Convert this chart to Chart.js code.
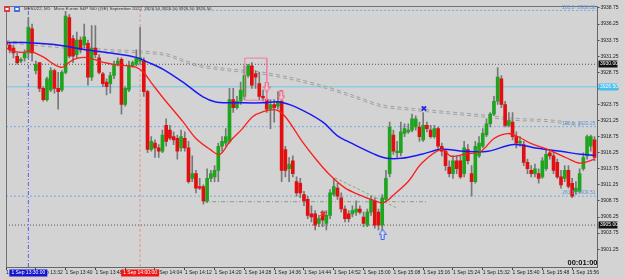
<!DOCTYPE html>
<html>
<head>
<meta charset="utf-8">
<script src="https://cdn.jsdelivr.net/npm/chart.js@4.4.0/dist/chart.umd.min.js"></script>
<style>
  html, body { margin: 0; padding: 0; background: #d3d3d3; }
  canvas { display: block; }
</style>
</head>
<body>
<canvas id="chart" width="625" height="279"></canvas>
<script>
// MESU22 M1 candles, one per minute starting 1 Sep 13:24
const opens = [
  3933.5, 3933.0, 3932.5, 3931.25, 3930.5, 3931.0, 3931.75, 3935.5, 3929.0, 3930.25,
  3926.25, 3924.5, 3926.0, 3929.0, 3926.25, 3926.0, 3928.75, 3937.25, 3934.0, 3931.5,
  3933.75, 3933.0, 3933.25, 3928.0, 3932.5, 3931.0, 3928.5, 3927.25, 3927.0, 3928.25,
  3930.0, 3930.75, 3923.75, 3926.0, 3929.75, 3930.0, 3930.5, 3930.5, 3925.75, 3916.75,
  3917.75, 3917.0, 3916.5, 3920.5, 3919.75, 3918.75, 3918.5, 3917.0, 3918.5, 3917.0,
  3912.25, 3913.0, 3911.0, 3911.0, 3908.75, 3912.25, 3912.5, 3913.5, 3917.25, 3917.75,
  3918.0, 3924.5, 3923.25, 3924.25, 3925.0, 3928.25, 3929.75, 3928.5, 3927.0, 3925.0,
  3924.5, 3923.0, 3923.75, 3923.5, 3924.25, 3916.75, 3913.75, 3915.0, 3911.75, 3911.5,
  3909.75, 3909.0, 3906.75, 3906.75, 3905.25, 3906.5, 3905.25, 3906.5, 3909.75, 3910.75,
  3909.25, 3907.5, 3906.75, 3906.75, 3907.0, 3907.5, 3906.25, 3905.0, 3907.0, 3908.75,
  3907.0, 3905.0, 3909.0, 3913.0, 3919.0, 3916.25, 3916.25, 3919.25, 3919.5, 3919.75,
  3920.25, 3920.25, 3918.25, 3920.5, 3919.75, 3918.75, 3920.0, 3917.25, 3916.5, 3914.0,
  3913.0, 3915.0, 3915.0, 3913.0, 3916.75, 3913.0, 3911.75, 3915.75, 3917.25, 3919.0,
  3920.75, 3922.25, 3924.25, 3927.75, 3923.75, 3920.5, 3921.0, 3918.75, 3917.75, 3917.5,
  3914.75, 3913.5, 3913.0, 3913.0, 3912.5, 3913.75, 3916.25, 3915.75, 3914.75, 3912.5,
  3912.25, 3913.5, 3911.5, 3910.25, 3910.25, 3913.75, 3915.75, 3917.25, 3918.25
];
const highs = [
  3933.75, 3933.25, 3933.0, 3931.75, 3931.0, 3932.25, 3937.25, 3936.25, 3930.5, 3930.25,
  3926.5, 3928.0, 3929.5, 3929.25, 3928.75, 3929.0, 3938.25, 3937.75, 3934.5, 3935.0,
  3934.25, 3936.25, 3933.75, 3936.0, 3936.0, 3931.5, 3928.75, 3927.75, 3928.75, 3930.5,
  3931.0, 3931.0, 3926.5, 3930.5, 3930.5, 3932.25, 3935.75, 3931.0, 3926.0, 3918.75,
  3918.25, 3917.5, 3919.75, 3921.5, 3920.5, 3919.5, 3919.0, 3919.75, 3919.5, 3918.0,
  3915.75, 3913.5, 3912.25, 3911.25, 3913.75, 3913.5, 3914.25, 3917.75, 3918.75, 3920.0,
  3926.25, 3926.25, 3925.0, 3927.25, 3929.75, 3930.0, 3930.25, 3929.0, 3928.75, 3926.0,
  3924.75, 3924.5, 3924.5, 3925.75, 3925.5, 3917.25, 3915.5, 3915.75, 3912.5, 3912.25,
  3910.25, 3909.5, 3908.0, 3907.25, 3906.5, 3907.25, 3907.25, 3910.5, 3912.25, 3911.5,
  3910.0, 3908.0, 3907.25, 3908.0, 3908.75, 3908.0, 3907.0, 3907.5, 3909.5, 3909.25,
  3907.5, 3909.75, 3913.5, 3921.0, 3919.75, 3918.0, 3921.0, 3920.75, 3920.75, 3922.25,
  3922.0, 3921.0, 3922.5, 3921.0, 3920.5, 3920.5, 3920.25, 3917.75, 3916.75, 3915.0,
  3915.75, 3915.75, 3915.75, 3918.0, 3917.5, 3914.25, 3918.0, 3918.75, 3920.0, 3921.5,
  3922.5, 3925.0, 3929.5, 3928.25, 3924.25, 3922.5, 3922.5, 3919.5, 3918.75, 3918.0,
  3915.25, 3914.25, 3914.5, 3913.75, 3915.5, 3916.75, 3916.75, 3916.5, 3915.25, 3913.5,
  3914.25, 3914.25, 3912.25, 3911.75, 3913.75, 3916.25, 3919.0, 3919.0, 3918.75
];
const lows = [
  3932.75, 3931.75, 3931.0, 3930.0, 3930.25, 3930.5, 3931.0, 3930.5, 3928.5, 3925.75,
  3924.25, 3924.25, 3925.75, 3925.5, 3923.0, 3925.75, 3928.5, 3931.0, 3930.25, 3931.0,
  3931.75, 3932.5, 3926.75, 3927.5, 3931.0, 3928.5, 3926.5, 3925.25, 3925.5, 3927.75,
  3929.75, 3922.25, 3923.5, 3925.75, 3929.5, 3929.75, 3930.0, 3925.0, 3916.25, 3916.5,
  3915.5, 3915.5, 3916.25, 3917.25, 3918.25, 3917.5, 3915.25, 3916.5, 3916.5, 3911.5,
  3911.75, 3910.0, 3910.5, 3908.25, 3908.5, 3911.75, 3911.75, 3911.75, 3916.5, 3917.25,
  3917.75, 3922.5, 3923.0, 3923.75, 3924.5, 3928.0, 3926.25, 3926.25, 3924.5, 3924.25,
  3922.5, 3920.0, 3921.0, 3923.0, 3911.75, 3912.5, 3911.75, 3912.5, 3909.5, 3909.25,
  3908.0, 3906.0, 3905.5, 3904.25, 3904.75, 3904.75, 3904.25, 3906.0, 3909.5, 3909.0,
  3907.0, 3905.5, 3905.5, 3906.25, 3906.5, 3906.75, 3904.75, 3904.75, 3906.5, 3904.5,
  3904.25, 3904.25, 3908.75, 3912.5, 3916.0, 3915.5, 3915.75, 3918.75, 3919.25, 3919.5,
  3919.75, 3918.0, 3918.0, 3919.5, 3918.5, 3918.5, 3916.75, 3915.75, 3913.5, 3912.5,
  3912.25, 3913.0, 3912.25, 3912.5, 3914.5, 3909.5, 3911.5, 3915.5, 3917.0, 3918.75,
  3920.25, 3922.0, 3923.75, 3923.25, 3920.25, 3920.25, 3918.25, 3917.0, 3917.25, 3914.25,
  3913.0, 3912.5, 3912.5, 3911.5, 3912.25, 3913.5, 3915.25, 3913.0, 3912.25, 3910.75,
  3911.75, 3910.75, 3909.25, 3909.75, 3910.0, 3913.5, 3915.25, 3916.5, 3915.0
];
const closes = [
  3933.0, 3932.25, 3931.75, 3930.25, 3930.75, 3931.75, 3935.75, 3931.75, 3930.0, 3926.25,
  3924.5, 3927.75, 3929.0, 3926.25, 3925.75, 3928.75, 3937.5, 3931.25, 3931.25, 3933.75,
  3932.25, 3934.25, 3928.0, 3932.5, 3931.5, 3928.75, 3927.0, 3926.5, 3928.25, 3930.0,
  3930.5, 3923.75, 3926.25, 3929.75, 3930.25, 3931.0, 3931.0, 3925.75, 3916.75, 3918.0,
  3917.0, 3916.5, 3919.0, 3918.0, 3918.5, 3918.25, 3916.5, 3918.75, 3917.0, 3911.75,
  3913.0, 3910.75, 3910.75, 3908.75, 3912.25, 3913.0, 3913.5, 3917.25, 3918.0, 3918.75,
  3924.5, 3923.25, 3924.25, 3926.0, 3928.25, 3929.75, 3926.75, 3928.0, 3925.0, 3924.75,
  3923.0, 3923.75, 3923.25, 3924.25, 3913.5, 3913.5, 3914.5, 3913.0, 3910.0, 3910.0,
  3908.75, 3906.5, 3906.25, 3905.0, 3906.0, 3905.75, 3906.5, 3910.0, 3911.0, 3909.5,
  3907.5, 3906.0, 3906.0, 3907.25, 3907.5, 3907.0, 3905.25, 3907.0, 3909.0, 3905.0,
  3905.0, 3909.25, 3912.25, 3920.25, 3916.5, 3916.5, 3919.5, 3920.0, 3919.75, 3921.5,
  3921.5, 3918.75, 3920.5, 3920.0, 3918.75, 3920.0, 3917.25, 3916.5, 3914.25, 3913.0,
  3915.0, 3913.75, 3912.5, 3917.0, 3915.0, 3911.75, 3917.25, 3917.75, 3919.25, 3920.75,
  3922.25, 3924.25, 3928.0, 3923.75, 3920.5, 3921.25, 3918.75, 3917.75, 3918.0, 3914.75,
  3913.75, 3913.0, 3913.75, 3912.25, 3915.0, 3916.0, 3915.75, 3913.5, 3912.5, 3911.25,
  3913.5, 3911.0, 3909.5, 3910.75, 3913.0, 3915.5, 3918.75, 3918.75, 3915.5
];

// time axis (candle index -> label)
const tickIndex = [0, 8, 16, 24, 32, 40, 48, 56, 64, 72, 80, 88, 96, 104, 112, 120, 128, 136, 144, 152];
const timeLabels = [
  '1 Sep 13:24', '1 Sep 13:32', '1 Sep 13:40', '1 Sep 13:48', '1 Sep 13:56',
  '1 Sep 14:04', '1 Sep 14:12', '1 Sep 14:20', '1 Sep 14:28', '1 Sep 14:36',
  '1 Sep 14:44', '1 Sep 14:52', '1 Sep 15:00', '1 Sep 15:08', '1 Sep 15:16',
  '1 Sep 15:24', '1 Sep 15:32', '1 Sep 15:40', '1 Sep 15:48', '1 Sep 15:56'
];
const priceTicks = [
  3901.25, 3903.75, 3906.25, 3908.75, 3911.25, 3913.75, 3916.25, 3918.75,
  3921.25, 3923.75, 3926.25, 3928.75, 3931.25, 3933.75, 3936.25, 3938.75
];

// moving averages (candle index, price)
const fastMaX = [0, 1.4, 4.9, 6.2, 7.5, 10.2, 12.9, 15, 16.3, 18.2, 20.9, 23.5, 26.2, 28.9, 31.5, 35, 36.9, 39.5, 42.2, 47.5,
  51, 54.8, 57.4, 60.1, 63.5, 66.2, 68.9, 72.4, 75, 79.5, 83, 86.7, 91, 95.5, 99, 101.4, 104.4, 108.1, 111.6, 116.9,
  119.5, 123, 127.5, 131, 134.7, 137.4, 140.9, 145.4, 150.7, 154.2, 158];
const fastMa = [3932.6, 3932.14, 3931.84, 3932.14, 3931.84, 3931.07, 3929.99, 3929.53, 3929.99, 3930.76, 3931.07, 3930.76, 3930.3, 3929.99, 3929.84, 3929.53, 3928.76, 3926.76, 3924.76, 3921.08,
  3918.46, 3916.77, 3916.0, 3918.0, 3920.0, 3921.84, 3922.61, 3922.92, 3921.84, 3918.0, 3915.39, 3912.93, 3910.78, 3909.55, 3908.78, 3908.47, 3909.86, 3911.85, 3914.62, 3916.77,
  3915.7, 3916.0, 3916.47, 3918.46, 3919.23, 3918.77, 3917.69, 3916.77, 3915.39, 3914.62, 3915.24];
const slowMaX = [0, 4.9, 12.9, 20.9, 28.9, 35, 38.2, 42.2, 47.5, 52.9, 56.3, 63.5, 68.9, 73.4, 77.7, 84.9, 88.9, 92.9, 99, 102.2,
  106.2, 111.6, 116.9, 123, 129.4, 136.4, 142.7, 148.9, 154.2, 158];
const slowMa = [3933.37, 3933.37, 3933.06, 3932.3, 3931.68, 3931.07, 3930.3, 3929.22, 3927.22, 3924.92, 3924.15, 3924.0, 3924.0, 3924.15, 3923.38, 3921.08, 3918.92, 3917.69, 3916.0, 3915.39,
  3915.39, 3916.0, 3916.77, 3916.47, 3916.47, 3917.54, 3916.93, 3916.47, 3916.0, 3915.85];
const longMaX = [0, 13.7, 26.2, 42.2, 51, 60.1, 68.9, 76.1, 84.9, 92.9, 100.9, 109.7, 118.8, 127.6, 136.4, 145.4, 154.2];
const longMa = [3933.68, 3932.91, 3932.34, 3931.73, 3930.04, 3929.27, 3928.76, 3927.99, 3926.72, 3925.23, 3923.69, 3923.12, 3922.61, 3922.15, 3921.58, 3921.38, 3920.77];

// horizontal levels
const levelPrices = [3938.38, 3930.0, 3926.5, 3920.3, 3909.5, 3905.0];
const levelFrom = [36, 0, 0, 0, 0, 0];
const boxPrices = [3930.0, 3926.5, 3905.0];

// objects on the chart
const vLineIndex = [6, 36];
const rectIndex = [64.1, 70.0];
const rectPrice = [3930.96, 3924.41];
const sellArrowIndex = [70.0, 73.9];
const sellArrowPrice = [3926.46, 3925.07];
const buyArrowIndex = [101.1];
const buyArrowPrice = [3903.55];
const blueCrossIndex = [112.2];
const blueCrossPrice = [3923.12];
const redCrossIndex = [85.1];
const redCrossPrice = [3906.74];
const flatLineIndex = [52.9, 112.9];
const flatLinePrice = 3908.63;
const slopeIndex = [88.3, 104.9];
const slopePrice = [3912.36, 3907.67];

const UP = 'rgb(30,165,30)';
const DOWN = 'rgb(225,15,15)';
const FONT = '"Liberation Sans Narrow", "Liberation Sans", sans-serif';

const yMin = 3898.48, yMax = 3939.06, xMax = 158.8;

function arrowImage(up, stroke, fill) {
  const c = document.createElement('canvas');
  c.width = 8; c.height = 11;
  const g = c.getContext('2d');
  g.beginPath();
  if (up) {
    g.moveTo(4, 0.5); g.lineTo(7.5, 5.5); g.lineTo(5.5, 5.5); g.lineTo(5.5, 10.5);
    g.lineTo(2.5, 10.5); g.lineTo(2.5, 5.5); g.lineTo(0.5, 5.5);
  } else {
    g.moveTo(2.5, 0.5); g.lineTo(5.5, 0.5); g.lineTo(5.5, 5.5); g.lineTo(7.5, 5.5);
    g.lineTo(4, 10.5); g.lineTo(0.5, 5.5); g.lineTo(2.5, 5.5);
  }
  g.closePath();
  g.fillStyle = fill; g.fill();
  g.strokeStyle = stroke; g.lineWidth = 1; g.stroke();
  return c;
}

const idx = opens.map((_, i) => i);
const candleColor = ctx => closes[ctx.dataIndex] >= opens[ctx.dataIndex] ? UP : DOWN;

function hLine(price, from, color, dash, order) {
  return {
    type: 'line', data: [{ x: from, y: price }, { x: xMax, y: price }],
    borderColor: color, borderWidth: 1, borderDash: dash, pointRadius: 0, order: order
  };
}
function vLine(i, color, dash) {
  return {
    type: 'line', data: [{ x: i, y: yMin }, { x: i, y: yMax }],
    borderColor: color, borderWidth: 1, borderDash: dash, pointRadius: 0, order: 20
  };
}

const levelColors = ['rgb(120,170,225)', '#555', 'rgb(110,200,235)', 'rgb(120,170,225)', 'rgb(120,170,225)', '#555'];
const levelDash = [[2, 2], [1, 2], [], [2, 2], [2, 2], [1, 2]];

const datasets = [];
levelPrices.forEach((p, k) => datasets.push(hLine(p, levelFrom[k], levelColors[k], levelDash[k], 21)));
datasets.push(vLine(vLineIndex[0], 'rgb(90,90,255)', [4, 2, 1, 2]));
datasets.push(vLine(vLineIndex[1], 'rgba(240,130,130,0.8)', [3, 2]));

// long MA drawn as a double dashed gray line
[0, 0.3].forEach(off => datasets.push({
  type: 'line', data: longMaX.map((x, k) => ({ x, y: longMa[k] - off })),
  borderColor: 'rgb(160,160,160)', borderWidth: 1, borderDash: [4, 3],
  pointRadius: 0, tension: 0.3, order: 19
}));

datasets.push({
  type: 'line', data: flatLineIndex.map(x => ({ x, y: flatLinePrice })),
  borderColor: 'rgb(130,160,130)', borderWidth: 1, borderDash: [4, 2, 1, 2], pointRadius: 0, order: 18
});
datasets.push({
  type: 'line', data: slopeIndex.map((x, k) => ({ x, y: slopePrice[k] })),
  borderColor: 'rgb(130,175,130)', borderWidth: 1, borderDash: [3, 2], pointRadius: 0, order: 18
});

// wicks and bodies
datasets.push({
  type: 'bar', data: idx.map(i => ({ x: i, y: [lows[i], highs[i]] })),
  backgroundColor: 'rgb(120,120,120)', barThickness: 1, grouped: false, order: 12
});
datasets.push({
  type: 'bar', data: idx.map(i => ({ x: i, y: [opens[i], closes[i]] })),
  backgroundColor: candleColor, borderColor: 'rgba(60,60,60,0.6)', borderWidth: 0,
  barThickness: 3, minBarLength: 1, grouped: false, order: 11
});

// moving averages
datasets.push({
  type: 'line', data: slowMaX.map((x, k) => ({ x, y: slowMa[k] })),
  borderColor: 'rgb(25,25,245)', borderWidth: 1.5, pointRadius: 0, tension: 0.35, order: 5
});
datasets.push({
  type: 'line', data: fastMaX.map((x, k) => ({ x, y: fastMa[k] })),
  borderColor: 'rgb(250,30,30)', borderWidth: 1.3, pointRadius: 0, tension: 0.35, order: 4
});

// rectangle
datasets.push({
  type: 'line',
  data: [
    { x: rectIndex[0], y: rectPrice[0] }, { x: rectIndex[1], y: rectPrice[0] },
    { x: rectIndex[1], y: rectPrice[1] }, { x: rectIndex[0], y: rectPrice[1] },
    { x: rectIndex[0], y: rectPrice[0] }
  ],
  borderColor: 'rgb(245,120,175)', borderWidth: 1, pointRadius: 0, tension: 0, order: 3
});

// signals
datasets.push({
  type: 'line', showLine: false, data: sellArrowIndex.map((x, k) => ({ x, y: sellArrowPrice[k] })),
  pointStyle: arrowImage(false, 'rgb(240,90,120)', 'rgb(235,200,205)'), order: 2
});
datasets.push({
  type: 'line', showLine: false, data: buyArrowIndex.map((x, k) => ({ x, y: buyArrowPrice[k] })),
  pointStyle: arrowImage(true, 'rgb(60,90,240)', 'rgb(215,225,245)'), order: 2
});
datasets.push({
  type: 'line', showLine: false, data: blueCrossIndex.map((x, k) => ({ x, y: blueCrossPrice[k] })),
  pointStyle: 'crossRot', pointRadius: 3, borderColor: 'rgb(40,40,230)', borderWidth: 2, order: 2
});
datasets.push({
  type: 'line', showLine: false, data: redCrossIndex.map((x, k) => ({ x, y: redCrossPrice[k] })),
  pointStyle: 'crossRot', pointRadius: 3, borderColor: 'rgb(235,40,40)', borderWidth: 2, order: 2
});

const overlay = {
  id: 'overlay',
  beforeDraw(chart) {
    const g = chart.ctx;
    g.save();
    g.fillStyle = '#d3d3d3';
    g.fillRect(0, 0, chart.width, chart.height);
    g.restore();
  },
  afterDraw(chart) {
    const g = chart.ctx, a = chart.chartArea, xs = chart.scales.x, ys = chart.scales.y;
    g.save();
    // frame
    g.strokeStyle = '#707070';
    g.lineWidth = 1;
    g.beginPath();
    g.moveTo(a.left + 0.5, a.bottom); g.lineTo(a.left + 0.5, a.top + 0.5); g.lineTo(a.right, a.top + 0.5);
    g.stroke();

    g.textBaseline = 'middle';
    // title
    g.fillStyle = 'rgb(220,60,60)'; g.fillRect(4, 6, 6, 6);
    g.fillStyle = 'rgb(70,110,220)'; g.fillRect(14, 6, 6, 6);
    g.fillStyle = '#fff'; g.fillRect(5.5, 8, 3, 2); g.fillRect(15.5, 8, 3, 2);
    g.font = '4.4px ' + FONT;
    g.fillStyle = '#333';
    g.textAlign = 'left';
    g.fillText('MESU22, M1:  Micro E-mini S&P 500 (@E) September 2022  3926.50 3926.50 3926.50 3926.50', 24, 9);

    // fibo labels
    g.font = '5px ' + FONT;
    g.fillStyle = 'rgb(90,150,215)';
    g.textAlign = 'right';
    g.fillText('261.8  3938.38', a.right - 2, ys.getPixelForValue(levelPrices[0]) - 2.5);
    g.fillText('100.0  3920.25', a.right - 2, ys.getPixelForValue(levelPrices[3]) - 3);
    g.fillText('261.8  3909.51', a.right - 2, ys.getPixelForValue(levelPrices[4]) - 3);

    // price boxes on the axis
    const boxFill = ['#111', 'rgb(70,190,240)', '#111'];
    g.textAlign = 'left';
    boxPrices.forEach((p, k) => {
      const y = Math.round(ys.getPixelForValue(p));
      g.fillStyle = boxFill[k];
      g.fillRect(a.right + 1, y - 3.5, 19, 7);
      g.fillStyle = '#fff';
      g.fillText(p.toFixed(2), a.right + 2.5, y);
    });

    // time boxes on the x axis
    const tBox = [[vLineIndex[0], 'rgb(20,20,210)', '1 Sep 13:30:00'], [vLineIndex[1], 'rgb(240,20,20)', '1 Sep 14:00:00']];
    tBox.forEach(([i, col, txt]) => {
      const x = xs.getPixelForValue(i);
      g.fillStyle = col;
      g.fillRect(x - 19, a.bottom + 2.5, 38, 7);
      g.fillStyle = '#fff';
      g.textAlign = 'center';
      g.fillText(txt, x, a.bottom + 6);
    });

    // bar timer
    g.font = 'bold 7.5px "Liberation Sans", sans-serif';
    g.fillStyle = '#111';
    g.textAlign = 'right';
    g.fillText('00:01:00', a.right, a.bottom - 4);
    g.restore();
  }
};

new Chart(document.getElementById('chart'), {
  type: 'bar',
  data: { datasets },
  plugins: [overlay],
  options: {
    responsive: false,
    animation: false,
    devicePixelRatio: 1,
    layout: { padding: { left: 2, top: 3, right: 0, bottom: 0 } },
    plugins: { legend: { display: false }, tooltip: { enabled: false } },
    scales: {
      x: {
        type: 'linear', min: 0, max: xMax, offset: false,
        afterBuildTicks: s => { s.ticks = tickIndex.map(v => ({ value: v })); },
        afterFit: s => { s.height = 12; s.paddingLeft = 0; s.paddingRight = 0; },
        grid: { drawOnChartArea: false, tickLength: 3, color: '#444', offset: false },
        border: { color: '#666', width: 1 },
        ticks: {
          autoSkip: false, maxRotation: 0, align: 'start', padding: 0,
          color: '#222', font: { family: FONT, size: 5 },
          callback: (v, k) => timeLabels[k]
        }
      },
      y: {
        type: 'linear', position: 'right', min: yMin, max: yMax,
        afterBuildTicks: s => { s.ticks = priceTicks.map(v => ({ value: v })); },
        afterFit: s => { s.width = 27.5; s.paddingTop = 0; s.paddingBottom = 0; },
        grid: { drawOnChartArea: false, tickLength: 2, color: '#444' },
        border: { color: '#666', width: 1 },
        ticks: {
          autoSkip: false, padding: 1, color: '#222', font: { family: FONT, size: 5 },
          callback: v => v.toFixed(2)
        }
      }
    }
  }
});
</script>
</body>
</html>
